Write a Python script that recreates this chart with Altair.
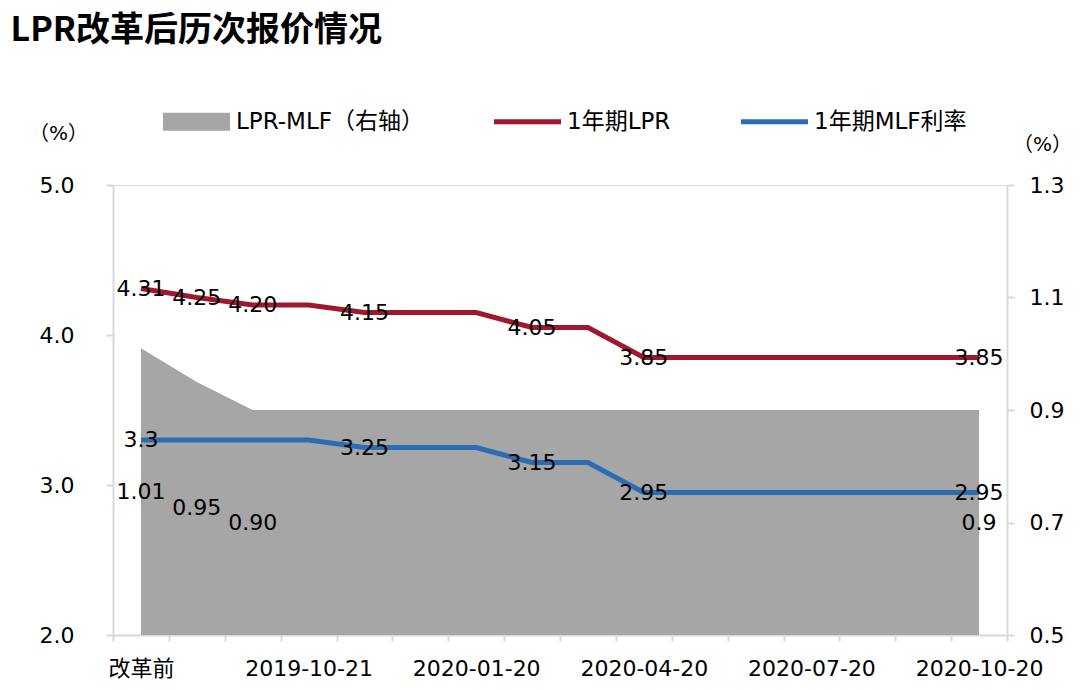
import json
import altair as alt
import pandas as pd

# ---------------- data ----------------
categories = ["改革前", "2019-08-20", "2019-09-20", "2019-10-21", "2019-11-20", "2019-12-20",
              "2020-01-20", "2020-02-20", "2020-03-20", "2020-04-20", "2020-05-20", "2020-06-22",
              "2020-07-20", "2020-08-20", "2020-09-21", "2020-10-20"]
lpr = [4.31, 4.25, 4.20, 4.20, 4.15, 4.15, 4.15, 4.05, 4.05, 3.85, 3.85, 3.85, 3.85, 3.85, 3.85, 3.85]
mlf = [3.30, 3.30, 3.30, 3.30, 3.25, 3.25, 3.25, 3.15, 3.15, 2.95, 2.95, 2.95, 2.95, 2.95, 2.95, 2.95]
spread = [1.01, 0.95, 0.90, 0.90, 0.90, 0.90, 0.90, 0.90, 0.90, 0.90, 0.90, 0.90, 0.90, 0.90, 0.90, 0.90]
lpr_labels = ["4.31", "4.25", "4.20", "", "4.15", "", "", "4.05", "", "3.85", "", "", "", "", "", "3.85"]
mlf_labels = ["3.3", "", "", "", "3.25", "", "", "3.15", "", "2.95", "", "", "", "", "", "2.95"]
spread_labels = ["1.01", "0.95", "0.90", "", "", "", "", "", "", "", "", "", "", "", "", "0.9"]
x_shown = ["改革前", "2019-10-21", "2020-01-20", "2020-04-20", "2020-07-20", "2020-10-20"]
series_names = ["LPR-MLF（右轴）", "1年期LPR", "1年期MLF利率"]
series_colors = ["#A6A6A6", "#A0182D", "#2B6CB3"]
left_ticks = [2.0, 3.0, 4.0, 5.0]
right_ticks = [0.5, 0.7, 0.9, 1.1, 1.3]

df = pd.DataFrame({"cat": categories, "lpr": lpr, "mlf": mlf, "spread": spread,
                   "lpr_lbl": lpr_labels, "mlf_lbl": mlf_labels, "spread_lbl": spread_labels})

FONT = "DejaVu Sans, Noto Sans CJK SC"
AXC = "#D9D9D9"
FS = 22
R_MIN, R_MAX = right_ticks[0], right_ticks[-1]
L_MIN, L_MAX = left_ticks[0], left_ticks[-1]

label_expr = ("indexof(" + json.dumps(x_shown, ensure_ascii=False) +
              ", datum.value) >= 0 ? datum.label : ''")


def xenc():
    return alt.X("cat:N", sort=categories,
                 scale=alt.Scale(type="band", paddingInner=0, paddingOuter=0),
                 bandPosition=0.5,
                 axis=alt.Axis(title=None, labelExpr=label_expr, tickBand="extent", labelAngle=0,
                               domainColor=AXC, domainWidth=2, tickColor=AXC, tickWidth=2, tickSize=6,
                               labelFont=FONT, labelFontSize=FS, labelColor="#000", labelPadding=17,
                               grid=False, labelOverlap=False, labelFlush=False, labelBound=False))


def yleft(field):
    return alt.Y(field, scale=alt.Scale(domain=[L_MIN, L_MAX], zero=False, nice=False),
                 axis=alt.Axis(orient="left", values=left_ticks, format=".1f", title="（%）",
                               titleAngle=0, titleX=-55, titleY=-52, titleAlign="center",
                               titleBaseline="middle", titleFont=FONT, titleFontSize=20,
                               titleFontWeight="normal", titleColor="#000",
                               domainColor=AXC, domainWidth=2, tickColor=AXC, tickWidth=2, tickSize=7,
                               labelFont=FONT, labelFontSize=FS, labelColor="#000", labelPadding=32,
                               grid=False))


def yright(field):
    return alt.Y(field, scale=alt.Scale(domain=[R_MIN, R_MAX], zero=False, nice=False),
                 axis=alt.Axis(orient="right", values=right_ticks, format=".1f", title="（%）",
                               titleAngle=0, titleX=35, titleY=-41, titleAlign="center",
                               titleBaseline="middle", titleFont=FONT, titleFontSize=20,
                               titleFontWeight="normal", titleColor="#000",
                               domainColor=AXC, domainWidth=2, tickColor=AXC, tickWidth=2, tickSize=7,
                               labelFont=FONT, labelFontSize=FS, labelColor="#000", labelPadding=15,
                               grid=False))


base = alt.Chart(df)
text_style = dict(font=FONT, fontSize=FS, color="#000", align="center", baseline="middle")

# right-axis group: spread area + its labels
area = base.mark_area(color=series_colors[0], opacity=1, clip=True).encode(
    x=xenc(), y=yright("spread:Q"))
area_txt = base.transform_filter("datum.spread_lbl != ''").transform_calculate(
    ymid=f"(datum.spread + {R_MIN}) / 2"
).mark_text(**text_style).encode(x=xenc(), y=yright("ymid:Q"), text="spread_lbl:N")
right = alt.layer(area, area_txt)

# left-axis group: lines + labels + legend carrier
lpr_line = base.mark_line(color=series_colors[1], strokeWidth=5).encode(x=xenc(), y=yleft("lpr:Q"))
mlf_line = base.mark_line(color=series_colors[2], strokeWidth=5).encode(x=xenc(), y=yleft("mlf:Q"))
lpr_txt = base.transform_filter("datum.lpr_lbl != ''").mark_text(**text_style).encode(
    x=xenc(), y=yleft("lpr:Q"), text="lpr_lbl:N")
mlf_txt = base.transform_filter("datum.mlf_lbl != ''").mark_text(**text_style).encode(
    x=xenc(), y=yleft("mlf:Q"), text="mlf_lbl:N")

rect_path = "M-1,-0.27L1,-0.27L1,0.27L-1,0.27Z"
line_path = "M-1,-0.075L1,-0.075L1,0.075L-1,0.075Z"
legend = alt.Legend(orient="none", legendX=50, legendY=-97, direction="horizontal", title=None,
                    labelFont=FONT, labelFontSize=23, labelColor="#000", symbolSize=4489,
                    symbolStrokeWidth=0, symbolOpacity=1, columnPadding=70, labelOffset=6,
                    padding=0, labelLimit=400)
legend_pts = base.transform_fold(["spread", "lpr", "mlf"], as_=["key", "val"]).transform_calculate(
    series=(f"datum.key == 'spread' ? '{series_names[0]}' : "
            f"(datum.key == 'lpr' ? '{series_names[1]}' : '{series_names[2]}')")
).mark_point(filled=True, opacity=0, clip=True).encode(
    x=xenc(), y=yleft("val:Q"),
    color=alt.Color("series:N", scale=alt.Scale(domain=series_names, range=series_colors), legend=legend),
    shape=alt.Shape("series:N", scale=alt.Scale(domain=series_names, range=[rect_path, line_path, line_path]),
                    legend=legend),
)
left = alt.layer(lpr_line, mlf_line, lpr_txt, mlf_txt, legend_pts)

chart = alt.layer(right, left).resolve_scale(y="independent").properties(
    width=894, height=450,
    title=alt.TitleParams(text="LPR改革后历次报价情况", anchor="start", font="Noto Sans CJK SC",
                          fontSize=34, fontWeight="bold", color="#000", dx=-18, offset=40),
    autosize=alt.AutoSizeParams(type="none"),
    padding={"left": 105, "top": 177, "right": 65, "bottom": 47},
).configure_view(stroke=None).configure(background="white")

chart.save("out.html", embed_options={"renderer": "svg", "actions": False})
